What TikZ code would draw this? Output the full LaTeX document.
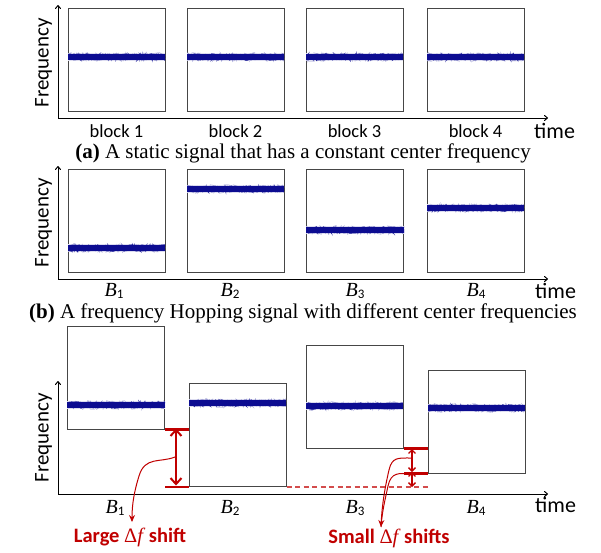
\documentclass[tikz,border=0pt]{standalone}
\usepackage{fontspec}
\setmainfont{Liberation Serif}
\newfontfamily\carlito{Carlito}
\usetikzlibrary{arrows.meta,decorations.pathmorphing}
\definecolor{sigblue}{RGB}{12,12,145}
\definecolor{shiftred}{RGB}{192,0,0}
\definecolor{boxgray}{RGB}{70,70,70}

% noisy narrow-band signal drawn across a block: x1, x2, y
\newcommand\sigline[3]{%
  \begin{scope}
  \clip (#1,#3-8) rectangle (#2,#3+8);
  \fill[sigblue!14] (#1,#3-4.2) rectangle (#2,#3+4.2);
  \draw[sigblue!45, line width=0.4pt, decorate,
        decoration={random steps, segment length=0.5pt, amplitude=4.3pt}] (#1-2,#3) -- (#2+2,#3);
  \fill[sigblue] (#1,#3-2.8) rectangle (#2,#3+2.8);
  \draw[sigblue, line width=0.6pt, decorate,
        decoration={random steps, segment length=0.7pt, amplitude=3.3pt}] (#1-2,#3) -- (#2+2,#3);
  \end{scope}
}
\newcommand\blabel[1]{{\itshape B}\raisebox{-0.25ex}{\carlito\fontsize{13}{13}\selectfont #1}}

\begin{document}
\begin{tikzpicture}[x=1pt,y=-1pt,
  blk/.style={draw=boxgray, line width=1pt, fill=white, inner sep=0pt,
              minimum width=97pt, minimum height=103pt},
  axis/.style={line width=1pt, -{To[length=4pt,width=6pt]}},
  ylab/.style={font=\carlito\fontsize{21}{21}\selectfont, rotate=90, inner sep=0pt},
  blab/.style={font=\carlito\fontsize{18.5}{18.5}\selectfont, inner sep=0pt, anchor=base},
  mlab/.style={font=\fontsize{20}{20}\selectfont, inner sep=0pt, anchor=base},
  tlab/.style={font=\carlito\fontsize{22}{22}\selectfont, inner sep=0pt, anchor=base west},
  captxt/.style={font=\fontsize{21}{21}\selectfont, inner sep=0pt, anchor=base},
  rlab/.style={font=\carlito\bfseries\fontsize{20.5}{20.5}\selectfont, text=shiftred,
               inner sep=0pt, anchor=base},
  rline/.style={draw=shiftred, line width=2.4pt},
  bigarrow/.style={draw=shiftred, line width=2.4pt,
                   {Straight Barb[length=6pt,width=11pt,line width=2pt]}-{Straight Barb[length=6pt,width=11pt,line width=2pt]}},
  smallarrow/.style={draw=shiftred, line width=1.5pt,
                   {Straight Barb[length=3.5pt,width=7pt,line width=1.3pt]}-{Straight Barb[length=3.5pt,width=7pt,line width=1.3pt]}},
  pointer/.style={draw=shiftred, line width=1pt},
]
\useasboundingbox (0,0) rectangle (601,552);
\pgfmathsetseed{7}

% ---------------- (a) static signal ----------------
\coordinate (oa) at (58,118);
\coordinate (ya) at (58,5);
\coordinate (xa) at (548,118);
\draw[axis] (oa) -- (ya);
\draw[axis] (oa) -- (xa);
\node[blk] (a1) at (116.5,59.5) {};
\node[blk] (a2) at (235.5,59.5) {};
\node[blk] (a3) at (354.5,59.5) {};
\node[blk] (a4) at (475.5,59.5) {};
\sigline{68}{165}{57}
\sigline{187}{284}{57}
\sigline{306}{403}{57}
\sigline{427}{524}{57}
\node[ylab] (fa) at (43.5,63) {Frequency};
\node[blab] (la1) at (116.5,137.5) {block 1};
\node[blab] (la2) at (235.5,137.5) {block 2};
\node[blab] (la3) at (354.5,137.5) {block 3};
\node[blab] (la4) at (475.5,137.5) {block 4};
\node[tlab] (ta) at (534,138) {time};
\node[captxt] (capa) at (303,158) {\textbf{(a)} A static signal that has a constant center frequency};

% ---------------- (b) frequency hopping ----------------
\coordinate (ob) at (58,279);
\coordinate (yb) at (58,166);
\coordinate (xb) at (548,279);
\draw[axis] (ob) -- (yb);
\draw[axis] (ob) -- (xb);
\node[blk] (b1) at (116.5,221) {};
\node[blk] (b2) at (235.5,221) {};
\node[blk] (b3) at (355,221) {};
\node[blk] (b4) at (475.5,221) {};
\sigline{68}{165}{248}
\sigline{187}{284}{189}
\sigline{306}{404}{230}
\sigline{427}{524}{208}
\node[ylab] (fb) at (43.5,223) {Frequency};
\node[mlab] (lb1) at (114,296) {\blabel{1}};
\node[mlab] (lb2) at (230,296) {\blabel{2}};
\node[mlab] (lb3) at (355,296) {\blabel{3}};
\node[mlab] (lb4) at (476,296) {\blabel{4}};
\node[tlab] (tb) at (535,298) {time};
\node[captxt] (capb) at (303,318) {\textbf{(b)} A frequency Hopping signal with different center frequencies};

% ---------------- (c) frequency shifts ----------------
\coordinate (oc) at (58,494);
\coordinate (yc) at (58,381);
\coordinate (xc) at (548,494);
\draw[axis] (oc) -- (yc);
\draw[axis] (oc) -- (xc);
\node[blk] (c1) at (116,377.5) {};
\node[blk] (c2) at (237.5,435) {};
\node[blk] (c3) at (354.5,396.5) {};
\node[blk] (c4) at (476.5,421.5) {};
\sigline{67}{165}{405}
\sigline{189}{286}{403}
\sigline{306}{403}{406}
\sigline{428}{525}{408}
\node[ylab] (fc) at (43.5,438) {Frequency};
\node[mlab] (lc1) at (115,513) {\blabel{1}};
\node[mlab] (lc2) at (230,513) {\blabel{2}};
\node[mlab] (lc3) at (355,513) {\blabel{3}};
\node[mlab] (lc4) at (476,513) {\blabel{4}};
\node[tlab] (tc) at (535,512) {time};

% large shift between B1 and B2
\draw[rline] (c1.south east) -- (c1.south east -| c2.west);
\draw[rline] (c2.south west) -- (c2.south west -| c1.east);
\coordinate (LA) at (176,428.5);
\coordinate (LB) at (176,485.5);
\coordinate (LM) at (175,457);
\draw[bigarrow] (LA) -- (LB);
\node[rlab] (large) at (130,542) {Large {\mdseries\rmfamily Δ\textit{f}}\,shift};
\coordinate (LT) at (132,522);
\draw[pointer, -{Stealth[length=7pt,width=6pt]}] (LM)
  .. controls (160,463) and (145,456) .. (139,476)
  .. controls (134,492) and (132,505) .. (LT);

% small shifts between B3 and B4
\draw[draw=shiftred!70, line width=1.3pt, dash pattern=on 5pt off 3.5pt]
  (c2.south east) -- (c2.south east -| c4.west);
\draw[rline] (c3.south east) -- (c3.south east -| c4.west);
\draw[rline] (c4.south west) -- (c4.south west -| c3.east);
\coordinate (S1) at (412,449);
\coordinate (S2) at (412,472);
\coordinate (S3) at (412,487);
\draw[smallarrow] (S1) -- (S2);
\draw[smallarrow] (S2) -- (S3);
\coordinate (SU) at (411,458);
\coordinate (SD) at (411,474);
\coordinate (ST) at (381,527);
\draw[pointer, -{Stealth[length=7pt,width=6pt]}] (SU)
  .. controls (398,458) and (392,457) .. (389,470)
  .. controls (385,487) and (382,505) .. (ST);
\draw[pointer] (SD)
  .. controls (399,473) and (391,472) .. (388,486)
  .. controls (385,500) and (382,512) .. (ST);
\node[rlab] (small) at (389,543) {Small {\mdseries\rmfamily Δ\textit{f}}\,shifts};
\end{tikzpicture}
\end{document}
